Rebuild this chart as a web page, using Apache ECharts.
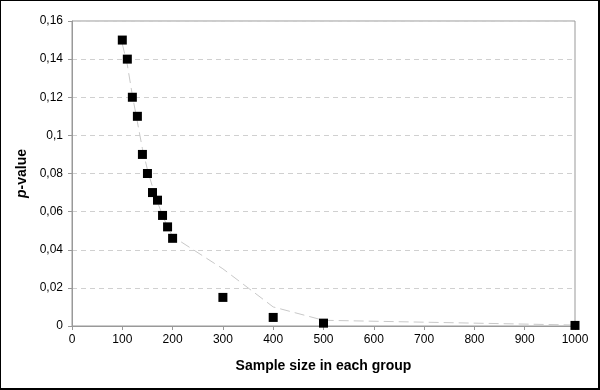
<!DOCTYPE html>
<html><head><meta charset="utf-8">
<script src="https://cdn.jsdelivr.net/npm/echarts@6/dist/echarts.min.js"></script>
<style>
html,body{margin:0;padding:0;background:#fff;}
#frame{position:absolute;left:0;top:0;width:597px;height:387px;border:1px solid #000;border-right:2px solid #000;border-bottom:2px solid #000;}
#c{position:absolute;left:0;top:0;width:600px;height:390px;}
</style></head>
<body>
<div id="c"></div>
<div id="frame"></div>
<script>
const sampleSizes = [100,110,120,130,140,150,160,170,180,190,200,300,400,500,1000];
const pValues = [0.15,0.14,0.12,0.11,0.09,0.08,0.07,0.066,0.058,0.052,0.046,0.015,0.0045,0.0015,0.0003];
const fitX = [100,110,120,130,140,150,160,170,180,190,200,300,400,500,1000];
const fitY = [0.148,0.137,0.121,0.107,0.093,0.082,0.073,0.065,0.058,0.052,0.047,0.030,0.010,0.003,0.0005];
const xTitle = 'Sample size in each group';

const chart = echarts.init(document.getElementById('c'));
chart.setOption({
  animation:false,
  textStyle:{fontFamily:'Liberation Sans, Arial, sans-serif'},
  grid:{left:72,right:25,top:21,bottom:64,show:true,borderColor:'#999',borderWidth:1,backgroundColor:'#fff'},
  xAxis:{type:'value',min:0,max:1000,interval:100,
    name:xTitle,nameLocation:'middle',nameGap:33,
    nameTextStyle:{fontSize:14,fontWeight:'bold',color:'#000'},
    axisLine:{lineStyle:{color:'#999'}},
    axisTick:{show:true,length:4,lineStyle:{color:'#999'}},
    axisLabel:{color:'#000',fontSize:12,margin:8,formatter:v=>String(v)},
    splitLine:{show:false}},
  yAxis:{type:'value',min:0,max:0.16,interval:0.02,
    name:'{i|p}-value',nameLocation:'middle',nameGap:42,nameRotate:90,
    nameTextStyle:{fontSize:14,fontWeight:'bold',color:'#000',
      rich:{i:{fontStyle:'italic',fontWeight:'bold',fontSize:14,color:'#000'}}},
    axisLine:{show:true,lineStyle:{color:'#999'}},
    axisTick:{show:true,length:4,lineStyle:{color:'#999'}},
    axisLabel:{color:'#000',fontSize:12,margin:9,
      formatter:v=>String(Math.round(v*100)/100).replace('.',',')},
    splitLine:{show:true,lineStyle:{color:'#d0d0d0',type:[5,4]}}},
  series:[
    {type:'line',data:fitX.map((x,i)=>[x,fitY[i]]),symbol:'none',
      lineStyle:{color:'#c8c8c8',width:1,type:[10,5]},z:1},
    {type:'scatter',data:sampleSizes.map((x,i)=>[x,pValues[i]]),symbol:'rect',symbolSize:9,
      itemStyle:{color:'#000',opacity:1},z:3}
  ]
});
</script>
</body></html>
